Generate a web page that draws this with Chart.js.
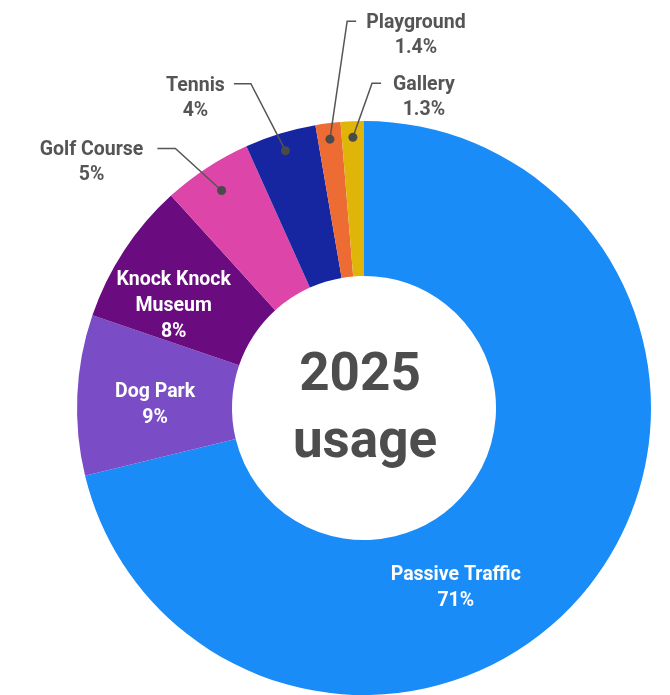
<!DOCTYPE html>
<html>
<head>
<meta charset="utf-8">
<script src="https://cdn.jsdelivr.net/npm/chart.js@4/dist/chart.umd.min.js"></script>
<style>
  html, body { margin: 0; padding: 0; background: #fff; }
  #wrap { width: 670px; height: 695px; }
</style>
</head>
<body>
<div id="wrap"><canvas id="usage" width="670" height="695"></canvas></div>
<script>
// data, clockwise from 12 o'clock
const categories = ["Passive Traffic", "Dog Park", "Knock Knock Museum", "Golf Course", "Tennis", "Playground", "Gallery"];
const shares = [71, 9, 8, 5, 4, 1.4, 1.3];
const percentText = ["71%", "9%", "8%", "5%", "4%", "1.4%", "1.3%"];
const nameLines = [["Passive Traffic"], ["Dog Park"], ["Knock Knock", "Museum"], ["Golf Course"], ["Tennis"], ["Playground"], ["Gallery"]];
const centerLines = ["2025", "usage"];

const sliceColors = ["#1a8cf7", "#7a4cc6", "#6a0b80", "#de45a9", "#1526a0", "#ec6c33", "#e0b50a"];

// where each label sits: inside the ring, or outside with a leader line
const placement = [
    { inside: true, shift: 24.5, r: 200 },
    { inside: true, shift: -1.2, r: 209 },
    { inside: true, shift: -4.6, r: 217 },
    { inside: false, dr: 27, dx: -130, dy: -42, side: "left", gap: 14, elbow: 18 },
    { inside: false, dr: 18, dx: -90, dy: -67, side: "left", gap: 9, elbow: 17 },
    { inside: false, dr: 16, dx: 86, dy: -118, side: "right", gap: 10, elbow: 9 },
    { inside: false, dr: 16, dx: 71, dy: -54, side: "right", gap: 12, elbow: 9 }
];

const FONT = "Roboto, 'Open Sans', sans-serif";
const GREY = "#555555";
const TEXT_NUDGE = 2; // canvas "middle" sits a little above the cap centre

const labelPlugin = {
    id: "sliceLabels",
    afterDraw(chart) {
        const ctx = chart.ctx;
        const meta = chart.getDatasetMeta(0);
        ctx.save();
        ctx.textAlign = "center";
        ctx.textBaseline = "middle";
        ctx.font = "700 19.5px " + FONT;

        meta.data.forEach((arc, i) => {
            const p = arc.getProps(["x", "y", "startAngle", "endAngle", "innerRadius", "outerRadius"], true);
            const mid = (p.startAngle + p.endAngle) / 2;
            const cfg = placement[i];
            const lines = nameLines[i].concat([percentText[i]]);

            if (cfg.inside) {
                const a = mid + cfg.shift * Math.PI / 180;
                const cx = p.x + cfg.r * Math.cos(a);
                const cy = p.y + cfg.r * Math.sin(a);
                const top = cy - (lines.length - 1) * 26 / 2 + TEXT_NUDGE;
                ctx.fillStyle = "#ffffff";
                lines.forEach((t, k) => ctx.fillText(t, cx, top + k * 26));
                return;
            }

            const dr = p.outerRadius - cfg.dr;
            const dotX = p.x + dr * Math.cos(mid);
            const dotY = p.y + dr * Math.sin(mid);
            const tx = dotX + cfg.dx;
            const ty = dotY + cfg.dy;
            const w = ctx.measureText(lines[0]).width;

            let endX, elbowX;
            if (cfg.side === "left") {
                endX = tx + w / 2 + cfg.gap;
                elbowX = endX + cfg.elbow;
            } else {
                endX = tx - w / 2 - cfg.gap;
                elbowX = endX - cfg.elbow;
            }

            ctx.strokeStyle = GREY;
            ctx.lineWidth = 1.5;
            ctx.beginPath();
            ctx.moveTo(endX, ty);
            ctx.lineTo(elbowX, ty);
            ctx.lineTo(dotX, dotY);
            ctx.stroke();

            ctx.fillStyle = "#4a4a4a";
            ctx.beginPath();
            ctx.arc(dotX, dotY, 4.5, 0, Math.PI * 2);
            ctx.fill();

            ctx.fillStyle = GREY;
            lines.forEach((t, k) => ctx.fillText(t, tx, ty + TEXT_NUDGE + k * 25));
        });

        // centre title
        const c = meta.data[0];
        ctx.fillStyle = "#4d4d4d";
        ctx.textBaseline = "alphabetic";
        ctx.font = "700 53px " + FONT;
        ctx.fillText(centerLines[0], c.x - 4, c.y - 18);
        ctx.fillText(centerLines[1], c.x + 1, c.y + 49);

        ctx.restore();
    }
};

new Chart(document.getElementById("usage"), {
    type: "doughnut",
    data: {
        labels: categories,
        datasets: [{
            data: shares,
            backgroundColor: sliceColors,
            borderWidth: 0,
            hoverOffset: 0
        }]
    },
    options: {
        responsive: false,
        animation: false,
        cutout: "46%",
        layout: { padding: { top: 121, left: 58, right: 0, bottom: 0 } },
        plugins: {
            legend: { display: false },
            tooltip: { enabled: false }
        }
    },
    plugins: [labelPlugin]
});
</script>
</body>
</html>
